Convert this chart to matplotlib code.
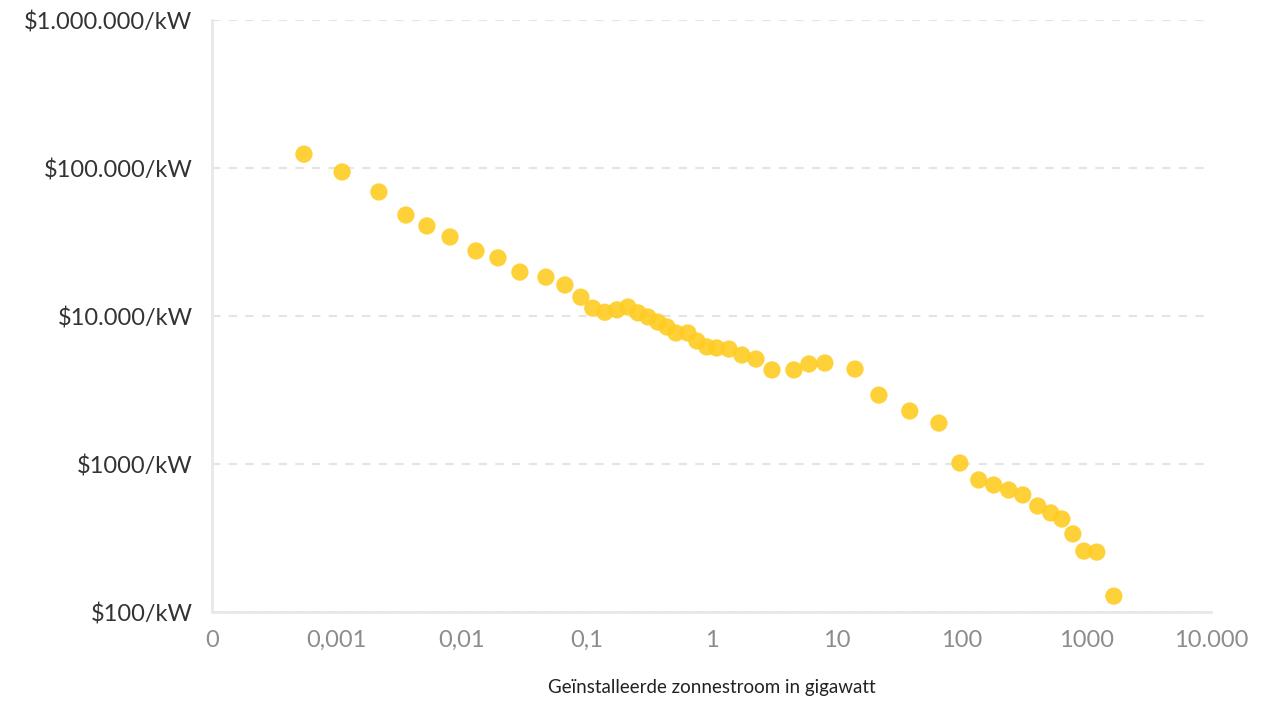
import numpy as np
import matplotlib.pyplot as plt
from matplotlib.ticker import FixedLocator, FixedFormatter, NullLocator

plt.rcParams['font.family'] = ['Lato', 'DejaVu Sans']

# Installed solar capacity (GW) and module price ($/kW)
gigawatt = [0.000545, 0.0011, 0.00217, 0.00357, 0.00526, 0.00806, 0.0130, 0.0195,
            0.0292, 0.0472, 0.0670, 0.0900, 0.112, 0.140, 0.175, 0.214, 0.258,
            0.310, 0.372, 0.440, 0.519, 0.647, 0.764, 0.918, 1.10, 1.38, 1.75,
            2.27, 3.05, 4.57, 6.03, 8.09, 14.1, 21.9, 38.7, 66.2, 97.5, 138,
            182, 240, 311, 410, 521, 639, 783, 959, 1218, 1667]
price = [124000, 94000, 68900, 48100, 40600, 34200, 27500, 24700, 19800, 18300,
         16200, 13400, 11300, 10600, 11000, 11500, 10500, 9850, 9100, 8430,
         7680, 7680, 6780, 6180, 6080, 5980, 5450, 5120, 4320, 4320, 4740, 4810,
         4380, 2920, 2280, 1890, 1015, 780, 721, 667, 618, 520, 467, 425, 337,
         258, 254, 128]

xticks = [1e-4, 1e-3, 1e-2, 1e-1, 1, 10, 100, 1000, 10000]
xlabels = ['0', '0,001', '0,01', '0,1', '1', '10', '100', '1000', '10.000']
yticks = [100, 1000, 10000, 100000, 1000000]
ylabels = ['$100/kW', '$1000/kW', '$10.000/kW', '$100.000/kW', '$1.000.000/kW']

fig = plt.figure(figsize=(12.78, 7.02), dpi=100)
ax = fig.add_axes([212 / 1278, 1 - 612 / 702, (1211 - 212) / 1278, (612 - 20) / 702])

ax.scatter(gigawatt, price, s=155, color='#FFCC22', alpha=0.9, edgecolors='none', zorder=3)

ax.set_xscale('log')
ax.set_yscale('log')
ax.set_xlim(1e-4, 1e4)
ax.set_ylim(100, 1e6)

ax.xaxis.set_major_locator(FixedLocator(xticks))
ax.xaxis.set_major_formatter(FixedFormatter(xlabels))
ax.yaxis.set_major_locator(FixedLocator(yticks))
ax.yaxis.set_major_formatter(FixedFormatter(ylabels))
ax.xaxis.set_minor_locator(NullLocator())
ax.yaxis.set_minor_locator(NullLocator())

ax.tick_params(axis='x', length=0, pad=13, labelsize=17, labelcolor='#8c8c8c')
ax.tick_params(axis='y', length=0, pad=14, labelsize=17, labelcolor='#333333')

ax.grid(axis='y', linestyle=(0, (4, 4)), color='#e4e4e4', linewidth=1.5)
ax.set_axisbelow(True)
for side in ['top', 'right']:
    ax.spines[side].set_visible(False)
for side in ['left', 'bottom']:
    ax.spines[side].set_color('#e8e8e8')
    ax.spines[side].set_linewidth(2)

ax.set_xlabel('Geïnstalleerde zonnestroom in gigawatt', fontsize=13.5, color='#222222', labelpad=20)

fig.savefig('out.png', dpi=100)
